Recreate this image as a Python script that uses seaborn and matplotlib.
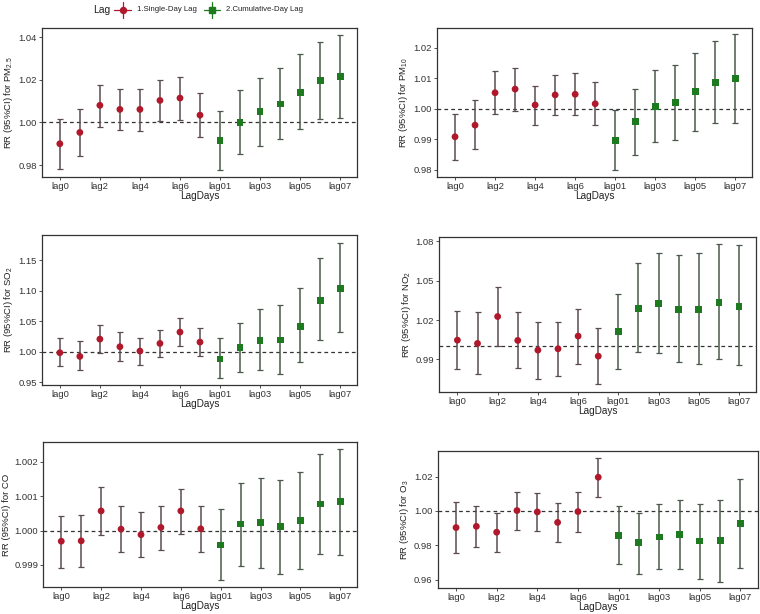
import numpy as np
import pandas as pd
import seaborn as sns
import matplotlib.pyplot as plt
from matplotlib.ticker import FormatStrFormatter
from matplotlib.lines import Line2D

lags = ['lag0', 'lag1', 'lag2', 'lag3', 'lag4', 'lag5', 'lag6', 'lag7',
        'lag01', 'lag02', 'lag03', 'lag04', 'lag05', 'lag06', 'lag07']
groups = ['1.Single-Day Lag'] * 8 + ['2.Cumulative-Day Lag'] * 7

# RR with lower / upper 95% CI
pm25_rr = [0.9900, 0.9953, 1.0080, 1.0061, 1.0061, 1.0103, 1.0114, 1.0034,
           0.9914, 1.0000, 1.0050, 1.0086, 1.0141, 1.0197, 1.0214]
pm25_lo = [0.9784, 0.9844, 0.9980, 0.9964, 0.9961, 1.0005, 1.0011, 0.9931,
           0.9778, 0.9853, 0.9891, 0.9920, 0.9969, 1.0017, 1.0022]
pm25_hi = [1.0014, 1.0064, 1.0177, 1.0156, 1.0158, 1.0200, 1.0213, 1.0136,
           1.0052, 1.0153, 1.0208, 1.0255, 1.0319, 1.0378, 1.0409]

pm10_rr = [0.9908, 0.9946, 1.0052, 1.0064, 1.0012, 1.0045, 1.0047, 1.0016,
           0.9896, 0.9958, 1.0008, 1.0020, 1.0055, 1.0086, 1.0099]
pm10_lo = [0.9831, 0.9867, 0.9981, 0.9993, 0.9947, 0.9978, 0.9978, 0.9945,
           0.9799, 0.9849, 0.9892, 0.9899, 0.9927, 0.9952, 0.9954]
pm10_hi = [0.9984, 1.0027, 1.0123, 1.0132, 1.0074, 1.0109, 1.0115, 1.0087,
           0.9995, 1.0065, 1.0125, 1.0142, 1.0181, 1.0221, 1.0243]

so2_rr = [0.9984, 0.9924, 1.0207, 1.0082, 1.0011, 1.0136, 1.0322, 1.0158,
          0.9880, 1.0065, 1.0185, 1.0191, 1.0420, 1.0845, 1.1035]
so2_lo = [0.9766, 0.9695, 0.9973, 0.9853, 0.9782, 0.9913, 1.0098, 0.9924,
          0.9564, 0.9662, 0.9700, 0.9640, 0.9826, 1.0191, 1.0316]
so2_hi = [1.0218, 1.0169, 1.0441, 1.0316, 1.0229, 1.0360, 1.0545, 1.0382,
          1.0218, 1.0474, 1.0692, 1.0758, 1.1047, 1.1532, 1.1782]

no2_rr = [1.0047, 1.0022, 1.0227, 1.0045, 0.9971, 0.9981, 1.0078, 0.9925,
          1.0110, 1.0290, 1.0326, 1.0283, 1.0280, 1.0336, 1.0306]
no2_lo = [0.9824, 0.9786, 0.9999, 0.9832, 0.9750, 0.9771, 0.9867, 0.9715,
          0.9824, 0.9953, 0.9951, 0.9880, 0.9864, 0.9900, 0.9857]
no2_hi = [1.0270, 1.0260, 1.0453, 1.0265, 1.0187, 1.0187, 1.0285, 1.0136,
          1.0400, 1.0638, 1.0714, 1.0699, 1.0714, 1.0783, 1.0772]

co_rr = [0.99969, 0.99970, 1.00057, 1.00004, 0.99988, 1.00009, 1.00057, 1.00005,
         0.99958, 1.00019, 1.00024, 1.00011, 1.00030, 1.00077, 1.00085]
co_lo = [0.99890, 0.99893, 0.99986, 0.99937, 0.99922, 0.99943, 0.99989, 0.99938,
         0.99856, 0.99896, 0.99891, 0.99874, 0.99889, 0.99931, 0.99930]
co_hi = [1.00043, 1.00046, 1.00127, 1.00071, 1.00054, 1.00072, 1.00120, 1.00071,
         1.00063, 1.00138, 1.00154, 1.00146, 1.00169, 1.00221, 1.00237]

o3_rr = [0.9903, 0.9910, 0.9876, 1.0002, 0.9994, 0.9933, 0.9996, 1.0196,
         0.9859, 0.9815, 0.9848, 0.9863, 0.9825, 0.9827, 0.9926]
o3_lo = [0.9754, 0.9787, 0.9762, 0.9890, 0.9882, 0.9817, 0.9880, 1.0080,
         0.9690, 0.9634, 0.9663, 0.9663, 0.9606, 0.9589, 0.9669]
o3_hi = [1.0050, 1.0030, 0.9989, 1.0112, 1.0107, 1.0046, 1.0109, 1.0310,
         1.0030, 0.9990, 1.0038, 1.0061, 1.0038, 1.0061, 1.0185]

ylabels = ['RR (95%CI) for PM$_{2.5}$', 'RR (95%CI) for PM$_{10}$',
           'RR (95%CI) for SO$_{2}$', 'RR (95%CI) for NO$_{2}$',
           'RR (95%CI) for CO', 'RR (95%CI) for O$_{3}$']

sns.set_style('white')
plt.rcParams['font.family'] = ['Liberation Sans', 'DejaVu Sans']
plt.rcParams['mathtext.default'] = 'regular'

red = '#B0182B'
green = '#1E7A1E'
palette = {'1.Single-Day Lag': red, '2.Cumulative-Day Lag': green}
markers = {'1.Single-Day Lag': 'o', '2.Cumulative-Day Lag': 's'}
bar_cols = ['#5a4c4e'] * 8 + ['#4c584c'] * 7

panels = [
    (pm25_rr, pm25_lo, pm25_hi, [0.98, 1.00, 1.02, 1.04], (0.9745, 1.0444), '%.2f',
     [0.055, 0.712, 0.415, 0.243]),
    (pm10_rr, pm10_lo, pm10_hi, [0.98, 0.99, 1.00, 1.01, 1.02], (0.9777, 1.0265), '%.2f',
     [0.575, 0.712, 0.415, 0.243]),
    (so2_rr, so2_lo, so2_hi, [0.95, 1.00, 1.05, 1.10, 1.15], (0.9456, 1.1909), '%.2f',
     [0.055, 0.373, 0.415, 0.244]),
    (no2_rr, no2_lo, no2_hi, [0.99, 1.02, 1.05, 1.08], (0.9654, 1.0833), '%.2f',
     [0.578, 0.362, 0.417, 0.252]),
    (co_rr, co_lo, co_hi, [0.999, 1.000, 1.001, 1.002], (0.99836, 1.00257), '%.3f',
     [0.057, 0.044, 0.413, 0.236]),
    (o3_rr, o3_lo, o3_hi, [0.96, 0.98, 1.00, 1.02], (0.955, 1.0347), '%.2f',
     [0.576, 0.042, 0.421, 0.223]),
]

fig = plt.figure(figsize=(7.6, 6.14), dpi=100)

for (rr, lo, hi, yt, ylim, fmt, pos), ylab in zip(panels, ylabels):
    ax = fig.add_axes(pos)
    df = pd.DataFrame({'lag': lags, 'group': groups, 'rr': rr, 'lo': lo, 'hi': hi})
    sns.scatterplot(data=df, x='lag', y='rr', hue='group', style='group',
                    palette=palette, markers=markers, s=24, linewidth=0,
                    legend=False, zorder=3, ax=ax)
    err = np.array([df['rr'] - df['lo'], df['hi'] - df['rr']])
    for i in range(len(df)):
        ax.errorbar(df['lag'][i:i + 1], df['rr'][i:i + 1], yerr=err[:, i:i + 1],
                    fmt='none', ecolor=bar_cols[i], elinewidth=1.1,
                    capsize=2.2, capthick=0.9, zorder=2)
    ax.axhline(1.0, color='#333333', ls=(0, (3, 2.5)), lw=0.9, zorder=1)
    ax.set_xlim(-0.9, 14.85)
    ax.set_ylim(*ylim)
    ax.set_yticks(yt)
    ax.yaxis.set_major_formatter(FormatStrFormatter(fmt))
    ax.set_xticks(range(0, 15, 2))
    ax.set_xticklabels(lags[0:8:2] + lags[8::2])
    ax.tick_params(axis='both', labelsize=6.8, length=2.5, width=0.6,
                   color='#333333', labelcolor='#333333', pad=1.2, direction='out')
    ax.tick_params(axis='both', bottom=True, left=True)
    ax.set_xlabel('LagDays', fontsize=7.2, color='#222222', labelpad=0)
    ax.set_ylabel(ylab, fontsize=6.8, color='#222222', labelpad=2)
    for sp in ax.spines.values():
        sp.set_color('#333333')
        sp.set_linewidth(0.9)

# legend on top, drawn ggplot-style: title at left, keys with errorbar crosses
fig.text(0.123, 0.984, 'Lag', fontsize=7.5, color='#222222', va='center')
for x0, c, mk, lab, xt in [(0.1615, red, 'o', groups[0], 0.180),
                           (0.279, green, 's', groups[-1], 0.297)]:
    fig.add_artist(Line2D([x0, x0], [0.971, 0.997], color=c, lw=0.9,
                          transform=fig.transFigure))
    fig.add_artist(Line2D([x0 - 0.011, x0 + 0.011], [0.984, 0.984], color=c, lw=0.9,
                          transform=fig.transFigure))
    fig.add_artist(Line2D([x0], [0.984], color=c, marker=mk, markersize=4.3, lw=0,
                          transform=fig.transFigure))
    fig.text(xt, 0.984, lab, fontsize=5.6, color='#222222', va='center')

fig.savefig('out.png', dpi=100)
